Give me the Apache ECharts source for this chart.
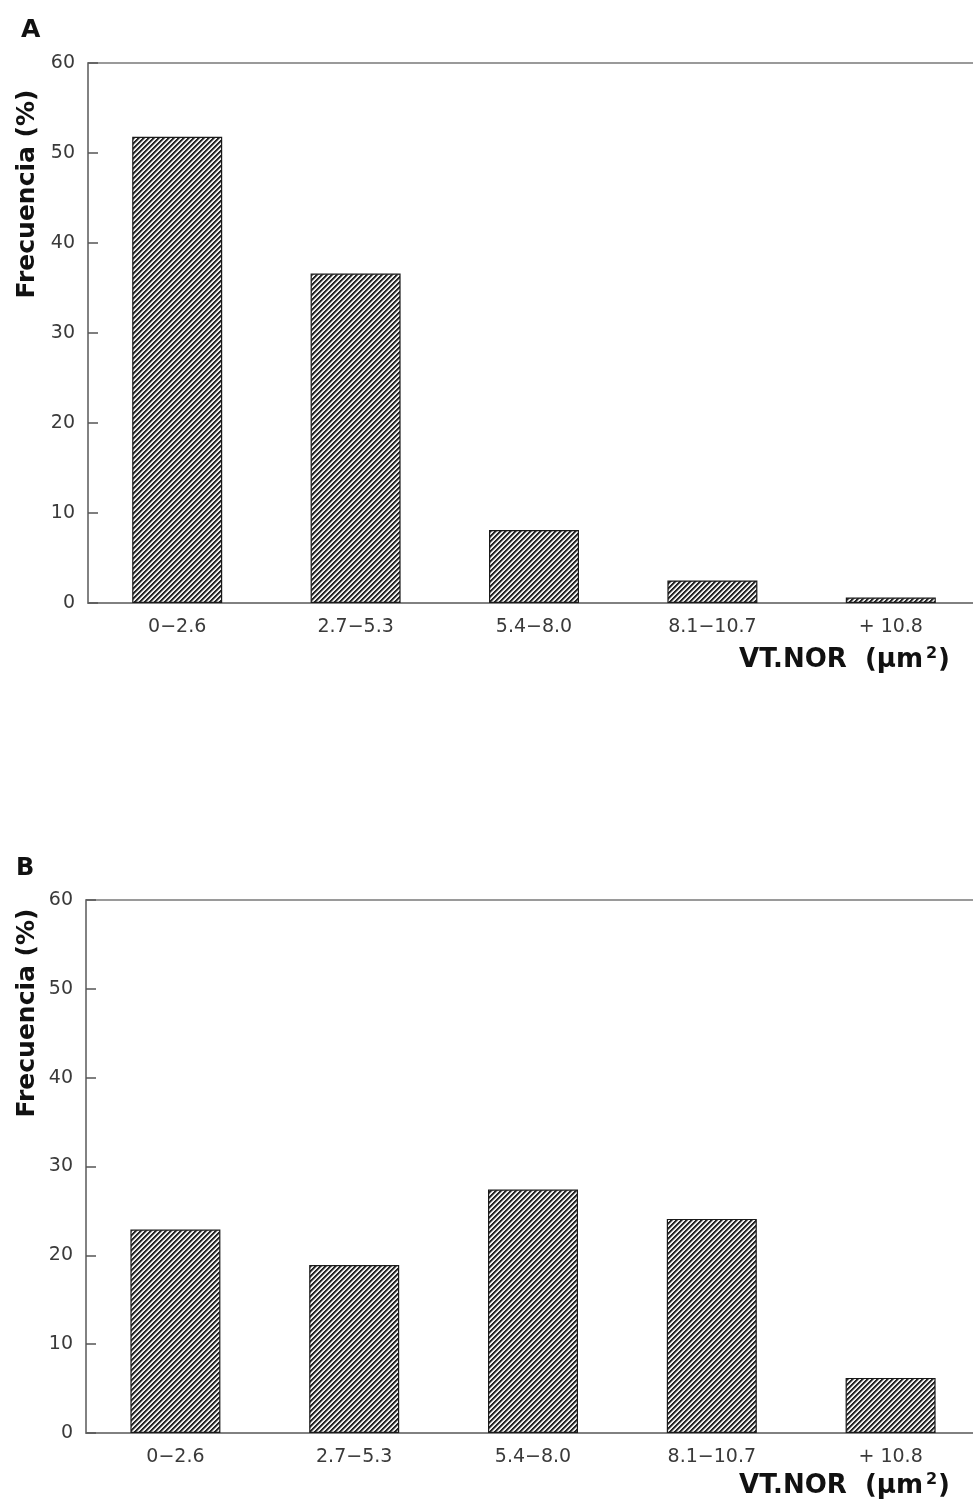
<!DOCTYPE html>
<html>
<head>
<meta charset="utf-8">
<script src="https://cdn.jsdelivr.net/npm/echarts@6/dist/echarts.min.js"></script>
<style>
  html, body { margin: 0; padding: 0; background: #fff; }
  #chart { width: 973px; height: 1504px; }
</style>
</head>
<body>
<div id="chart"></div>
<script>
// Size classes of VT.NOR area (µm²)
const categories = ['0\u22122.6', '2.7\u22125.3', '5.4\u22128.0', '8.1\u221210.7', '+ 10.8'];
// Frequency (%) per class, panel A
const valuesA = [51.8, 36.6, 8.1, 2.5, 0.6];
// Frequency (%) per class, panel B
const valuesB = [22.9, 18.9, 27.4, 24.1, 6.2];
const yTicks = [0, 10, 20, 30, 40, 50, 60];

// Diagonal "/" hatch fill for the bars, built pixel by pixel so it tiles cleanly
function hatch() {
  const s = 10, period = 5;
  const c = document.createElement('canvas');
  c.width = s; c.height = s;
  const g = c.getContext('2d');
  const img = g.createImageData(s, s);
  const shades = [34, 40, 120, 235, 238];
  for (let y = 0; y < s; y++) {
    for (let x = 0; x < s; x++) {
      const v = shades[(x + y) % period];
      const i = (y * s + x) * 4;
      img.data[i] = v; img.data[i + 1] = v; img.data[i + 2] = v; img.data[i + 3] = 255;
    }
  }
  g.putImageData(img, 0, 0);
  return { image: c, repeat: 'repeat' };
}
const pattern = hatch();

const font = '"DejaVu Sans", "Liberation Sans", sans-serif';
const axisGray = '#7a7a7a';

function makeGrid(top, left, width, height) {
  // the plot frame runs past the right edge of the page
  return {
    left: left, top: top, width: width, height: height,
    outerBoundsMode: 'none', containLabel: false,
    show: true, borderColor: axisGray, borderWidth: 1.5, backgroundColor: 'transparent'
  };
}
function makeX(idx) {
  return {
    type: 'category', gridIndex: idx, data: categories, boundaryGap: true,
    axisLine: { lineStyle: { color: axisGray, width: 1.5 } },
    axisTick: { alignWithLabel: true, length: 11, lineStyle: { color: '#555', width: 1.5 } },
    axisLabel: { color: '#3a3a3a', fontSize: 19, fontFamily: font, margin: 15 }
  };
}
function makeY(idx) {
  return {
    type: 'value', gridIndex: idx, min: yTicks[0], max: yTicks[yTicks.length - 1], interval: 10,
    axisLine: { show: true, lineStyle: { color: axisGray, width: 1.5 } },
    axisTick: { show: true, inside: true, length: 10, lineStyle: { color: '#555', width: 1.5 } },
    splitLine: { show: false },
    axisLabel: { color: '#3a3a3a', fontSize: 19, fontFamily: font, margin: 13 }
  };
}
function makeBars(idx, data) {
  return {
    type: 'bar', xAxisIndex: idx, yAxisIndex: idx, data: data, barWidth: 90,
    itemStyle: { color: pattern, borderColor: '#1a1a1a', borderWidth: 1.2 },
    silent: true, animation: false
  };
}
function txt(x, y, text, opts) {
  return {
    type: 'text', x: x, y: y,
    style: Object.assign({ text: text, fill: '#111', fontFamily: font, fontWeight: 'bold', fontSize: 25 }, opts || {})
  };
}
function yName(cy) {
  const t = txt(0, 0, 'Frecuencia (%)', { align: 'center', verticalAlign: 'middle', fontSize: 25 });
  t.x = 27; t.y = cy; t.rotation = Math.PI / 2;
  return t;
}
function xName(cy) {
  return txt(950, cy, '{b|VT.NOR  (\u00b5m}{s|2}{b|)}', {
    align: 'right', verticalAlign: 'middle',
    rich: {
      b: { fontFamily: font, fontWeight: 'bold', fontSize: 26, fill: '#111' },
      s: { fontFamily: font, fontWeight: 'bold', fontSize: 16, fill: '#111', padding: [0, 1, 12, 3] }
    }
  });
}

const chart = echarts.init(document.getElementById('chart'), null, { renderer: 'canvas' });
chart.setOption({
  animation: false,
  backgroundColor: '#fff',
  grid: [makeGrid(63, 88, 892, 540), makeGrid(900, 86, 894, 533)],
  xAxis: [makeX(0), makeX(1)],
  yAxis: [makeY(0), makeY(1)],
  series: [makeBars(0, valuesA), makeBars(1, valuesB)],
  graphic: [
    txt(21, 18, 'A', { fontSize: 25 }),
    txt(16, 857, 'B', { fontSize: 24 }),
    yName(194),
    yName(1013),
    xName(660),
    xName(1486)
  ]
});
</script>
</body>
</html>
